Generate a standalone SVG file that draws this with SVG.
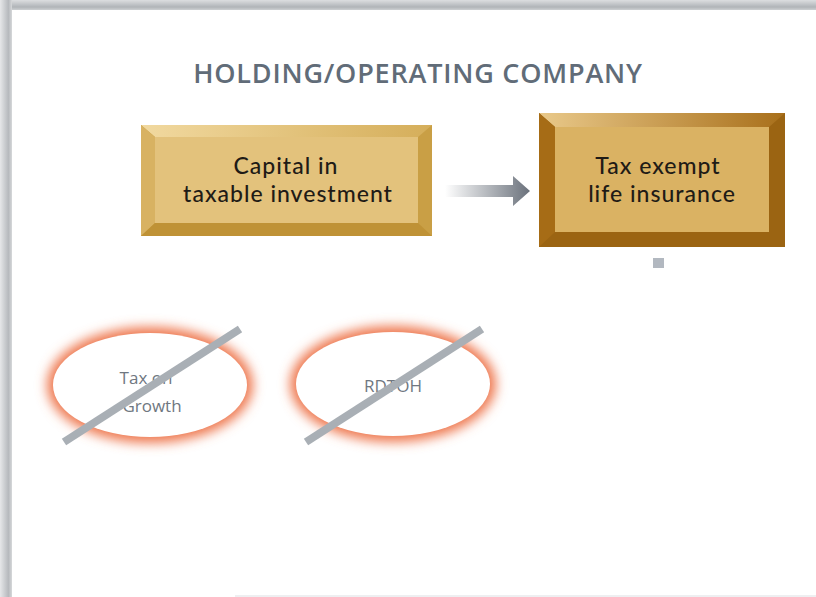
<svg xmlns="http://www.w3.org/2000/svg" width="816" height="597" viewBox="0 0 816 597">
  <defs>
    <linearGradient id="shadowTop" x1="0" y1="0" x2="0" y2="1">
      <stop offset="0" stop-color="#dcdee0"/>
      <stop offset="0.7" stop-color="#b0b4b8"/>
      <stop offset="1" stop-color="#cdd0d2"/>
    </linearGradient>
    <linearGradient id="shadowLeft" x1="0" y1="0" x2="1" y2="0">
      <stop offset="0" stop-color="#e6e7e9"/>
      <stop offset="0.7" stop-color="#b6b9bd"/>
      <stop offset="1" stop-color="#d6d8da"/>
    </linearGradient>
    <linearGradient id="arrowFade" x1="0" y1="0" x2="1" y2="0">
      <stop offset="0" stop-color="#ffffff"/>
      <stop offset="1" stop-color="#6a717b"/>
    </linearGradient>
    <linearGradient id="bevelLight" x1="0" y1="0" x2="1" y2="0">
      <stop offset="0" stop-color="#f1d9a0"/>
      <stop offset="1" stop-color="#d5ae5a"/>
    </linearGradient>
    <linearGradient id="bevelLight2" x1="0" y1="0" x2="1" y2="0">
      <stop offset="0" stop-color="#e9c98a"/>
      <stop offset="1" stop-color="#a86f1a"/>
    </linearGradient>
    <filter id="glow" x="-30%" y="-40%" width="160%" height="180%">
      <feGaussianBlur stdDeviation="6"/>
    </filter>
    <style>
      .title { font-family: "Open Sans", "Noto Sans", "Liberation Sans", sans-serif; font-size: 27px; font-weight: 600; fill: #616c78; text-anchor: middle; letter-spacing: 0.8px; }
      .boxText { font-family: Lato, "Open Sans", "Liberation Sans", sans-serif; font-size: 23px; font-weight: 500; fill: #1f1b16; text-anchor: middle; letter-spacing: 1px; }
      .ovalText { font-family: "Open Sans", "Noto Sans", "Liberation Sans", sans-serif; font-size: 17px; fill: #6f7781; text-anchor: middle; }
      .strike { stroke: #a9afb5; stroke-width: 8; stroke-linecap: butt; }
      .halo { fill: #ee7850; filter: url(#glow); }
      .oval { fill: #ffffff; }
    </style>
  </defs>

  <!-- page background with drop shadow on top and left -->
  <rect x="0" y="0" width="816" height="597" fill="#ffffff"/>
  <rect x="0" y="0" width="816" height="10" fill="url(#shadowTop)"/>
  <rect x="0" y="0" width="12" height="597" fill="url(#shadowLeft)"/>
  <rect x="235" y="595" width="581" height="2" fill="#eeeff1"/>

  <text class="title" x="418" y="83">HOLDING/OPERATING COMPANY</text>

  <g id="connectors">
    <!-- fading arrow between the two boxes -->
    <polygon points="445,185 513,185 513,176 530,191 513,206 513,197 445,197" fill="url(#arrowFade)"/>
    <!-- stub under the insurance box -->
    <rect x="653" y="258" width="11" height="10" fill="#b2b8c0"/>
  </g>

  <g id="capital-box">
    <rect x="141" y="125" width="291" height="111" fill="#c99f45"/>
    <polygon points="141,125 432,125 418,137 155,137" fill="url(#bevelLight)"/>
    <polygon points="141,125 155,137 155,223 141,236" fill="#d8b262"/>
    <polygon points="141,236 155,223 418,223 432,236" fill="#bf9236"/>
    <rect x="155" y="137" width="263" height="86" fill="#e3c27c"/>
    <text class="boxText" x="286" y="174">Capital in</text>
    <text class="boxText" x="288" y="202">taxable investment</text>
  </g>

  <g id="insurance-box">
    <rect x="539" y="113" width="246" height="134" fill="#9b6412"/>
    <polygon points="539,113 785,113 769,127 555,127" fill="url(#bevelLight2)"/>
    <polygon points="539,113 555,127 555,232 539,247" fill="#a66c16"/>
    <rect x="555" y="127" width="214" height="105" fill="#dab263"/>
    <text class="boxText" x="658" y="174">Tax exempt</text>
    <text class="boxText" x="662" y="202">life insurance</text>
  </g>

  <g id="tax-on-growth">
    <ellipse class="halo" cx="150" cy="385" rx="103" ry="58"/>
    <ellipse class="oval" cx="150" cy="385" rx="97" ry="52"/>
    <text class="ovalText" x="146" y="384">Tax on</text>
    <text class="ovalText" x="152" y="412">Growth</text>
    <line class="strike" x1="64" y1="442" x2="240" y2="329"/>
  </g>

  <g id="rdtoh">
    <ellipse class="halo" cx="393" cy="384" rx="103" ry="58"/>
    <ellipse class="oval" cx="393" cy="384" rx="97" ry="52"/>
    <text class="ovalText" x="393" y="392">RDTOH</text>
    <line class="strike" x1="306" y1="442" x2="482" y2="329"/>
  </g>
</svg>
